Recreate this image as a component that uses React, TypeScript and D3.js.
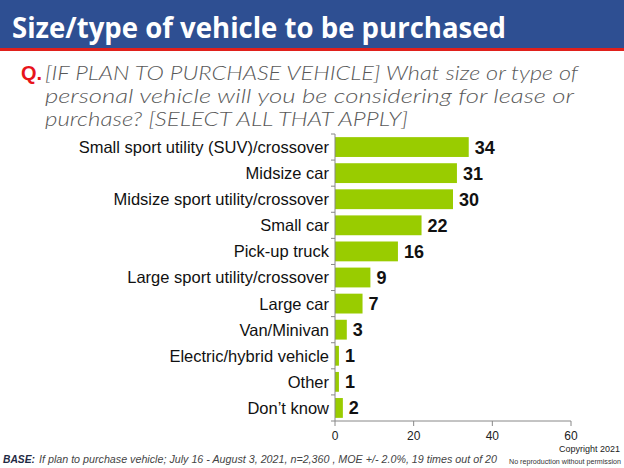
import React from "react";
import * as d3 from "d3";

const categories = [
  "Small sport utility (SUV)/crossover",
  "Midsize car",
  "Midsize sport utility/crossover",
  "Small car",
  "Pick-up truck",
  "Large sport utility/crossover",
  "Large car",
  "Van/Minivan",
  "Electric/hybrid vehicle",
  "Other",
  "Don\u2019t know",
];
const values = [34, 31, 30, 22, 16, 9, 7, 3, 1, 1, 2];
const xTicks = [0, 20, 40, 60];

const questionLines = [
  "[IF PLAN TO PURCHASE VEHICLE] What size or type of",
  "personal vehicle will you be considering for lease or",
  "purchase? [SELECT ALL THAT APPLY]",
];

export default function App() {
  const W = 624;
  const H = 468;
  const x0 = 335;
  const x1 = 571;
  const yTop = 134;
  const yBot = 421;
  const x = d3.scaleLinear().domain([0, 60]).range([x0, x1]);
  const y = d3
    .scaleBand<string>()
    .domain(categories)
    .range([yTop, yBot])
    .paddingInner(0.24)
    .paddingOuter(0.12);
  const step = (yBot - yTop) / categories.length;
  const boundaries = d3.range(categories.length + 1).map((i) => yTop + i * step);
  const qWidths = [533, 529, 363];

  return (
    <svg
      width={W}
      height={H}
      style={{ position: "absolute", left: 0, top: 0, background: "#fff" }}
    >
      <rect x={0} y={0} width={W} height={48} fill="#2E4F92" />
      <rect x={0} y={48} width={W} height={3} fill="#E0201B" />
      <text
        x={12}
        y={38}
        fill="#fff"
        fontFamily="'Open Sans', sans-serif"
        fontWeight="bold"
        fontSize={29}
        textLength={494}
        lengthAdjust="spacingAndGlyphs"
      >
        Size/type of vehicle to be purchased
      </text>

      <text
        x={21}
        y={80}
        fill="#E8141B"
        fontFamily="'Liberation Sans', Arial, sans-serif"
        fontWeight="bold"
        fontSize={20}
      >
        Q.
      </text>
      {questionLines.map((t, i) => (
        <text
          key={i}
          x={45}
          y={80 + i * 23}
          fill="#595959"
          fontFamily="Lato, 'Open Sans', sans-serif"
          fontStyle="italic"
          fontWeight={300}
          fontSize={20}
          textLength={qWidths[i]}
          lengthAdjust="spacingAndGlyphs"
        >
          {t}
        </text>
      ))}

      {categories.map((c, i) => (
        <g key={c}>
          <rect
            x={x(0)}
            y={y(c)!}
            width={x(values[i]) - x(0)}
            height={y.bandwidth()}
            fill="#99CC00"
          />
          <text
            x={x(values[i]) + 6}
            y={y(c)! + y.bandwidth() / 2}
            dy="0.36em"
            fontFamily="'Liberation Sans', Arial, sans-serif"
            fontWeight="bold"
            fontSize={18}
            fill="#111"
          >
            {values[i]}
          </text>
          <text
            x={329}
            y={y(c)! + y.bandwidth() / 2}
            dy="0.36em"
            textAnchor="end"
            fontFamily="'Liberation Sans', Arial, sans-serif"
            fontSize={16.5}
            fill="#111"
          >
            {c}
          </text>
        </g>
      ))}

      <line x1={x0} x2={x0} y1={yTop} y2={yBot} stroke="#888" strokeWidth={1} />
      {boundaries.map((b, i) => (
        <line key={i} x1={x0 - 4} x2={x0} y1={b} y2={b} stroke="#888" strokeWidth={1} />
      ))}
      <line x1={x0} x2={x1} y1={yBot} y2={yBot} stroke="#888" strokeWidth={1} />
      {xTicks.map((t) => (
        <g key={t}>
          <line x1={x(t)} x2={x(t)} y1={yBot} y2={yBot + 5} stroke="#888" strokeWidth={1} />
          <text
            x={x(t)}
            y={440}
            textAnchor="middle"
            fontFamily="'Liberation Sans', Arial, sans-serif"
            fontSize={12}
            fill="#222"
          >
            {t}
          </text>
        </g>
      ))}

      <text
        x={620}
        y={452}
        textAnchor="end"
        fontFamily="'Liberation Sans', Arial, sans-serif"
        fontSize={9}
        fill="#222"
      >
        Copyright 2021
      </text>
      <text
        x={3}
        y={463}
        fontFamily="'Liberation Sans Narrow', 'Liberation Sans', sans-serif"
        fontSize={11}
        fontStyle="italic"
        fontWeight="bold"
        fill="#1F2A44"
        textLength={32}
        lengthAdjust="spacingAndGlyphs"
      >
        BASE:
      </text>
      <text
        x={39}
        y={463}
        fontFamily="'Liberation Sans Narrow', 'Liberation Sans', sans-serif"
        fontSize={11}
        fontStyle="italic"
        fill="#444"
        textLength={458}
        lengthAdjust="spacingAndGlyphs"
      >
        If plan to purchase vehicle; July  16 - August 3, 2021, n=2,360 , MOE +/- 2.0%, 19 times out of 20
      </text>
      <text
        x={621}
        y={464}
        textAnchor="end"
        fontFamily="'Liberation Sans', Arial, sans-serif"
        fontSize={7}
        fill="#333"
        textLength={112}
        lengthAdjust="spacingAndGlyphs"
      >
        No reproduction without permission
      </text>
    </svg>
  );
}
